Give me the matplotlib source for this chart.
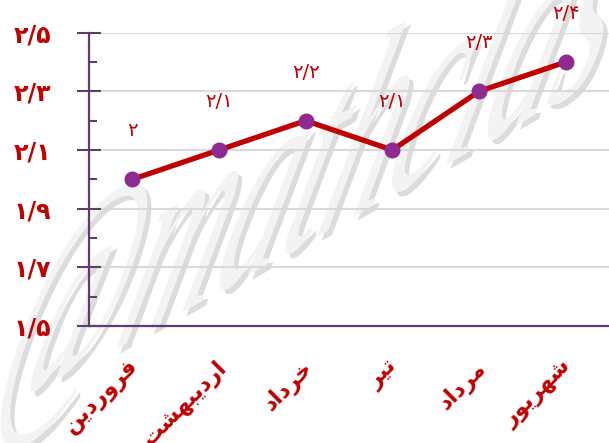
import matplotlib
matplotlib.use("Agg")
import matplotlib.pyplot as plt
from matplotlib.textpath import TextPath
from matplotlib.patches import PathPatch
from matplotlib.font_manager import FontProperties
from matplotlib.transforms import Affine2D, IdentityTransform, ScaledTranslation
import matplotlib.patheffects as pe
from matplotlib.ticker import MultipleLocator

# monthly values (first half of the Persian year)
months = ["فروردین", "اردیبهشت", "خرداد", "تیر", "مرداد", "شهریور"]
values = [2.0, 2.1, 2.2, 2.1, 2.3, 2.4]
y_ticks = [1.5, 1.7, 1.9, 2.1, 2.3, 2.5]

RED = "#C00000"
PURPLE = "#8E2A92"
AXIS = "#5E3C6E"

# presentation forms: isolated, final, initial, medial
FORMS = {
    "ا": ("\uFE8D", "\uFE8E"),
    "د": ("\uFEA9", "\uFEAA"),
    "ر": ("\uFEAD", "\uFEAE"),
    "و": ("\uFEED", "\uFEEE"),
    "ب": ("\uFE8F", "\uFE90", "\uFE91", "\uFE92"),
    "ت": ("\uFE95", "\uFE96", "\uFE97", "\uFE98"),
    "خ": ("\uFEA5", "\uFEA6", "\uFEA7", "\uFEA8"),
    "ش": ("\uFEB5", "\uFEB6", "\uFEB7", "\uFEB8"),
    "ف": ("\uFED1", "\uFED2", "\uFED3", "\uFED4"),
    "م": ("\uFEE1", "\uFEE2", "\uFEE3", "\uFEE4"),
    "ن": ("\uFEE5", "\uFEE6", "\uFEE7", "\uFEE8"),
    "ه": ("\uFEE9", "\uFEEA", "\uFEEB", "\uFEEC"),
    "ی": ("\uFBFC", "\uFBFD", "\uFBFE", "\uFBFF"),
}


def shape(word):
    """Join the letters and put them in right-to-left display order."""
    out = []
    for i, ch in enumerate(word):
        forms = FORMS.get(ch)
        if forms is None:
            out.append(ch)
            continue
        prev = word[i - 1] if i > 0 else None
        nxt = word[i + 1] if i + 1 < len(word) else None
        join_prev = prev in FORMS and len(FORMS[prev]) == 4
        join_next = len(forms) == 4 and nxt in FORMS
        if join_prev and join_next:
            out.append(forms[3])
        elif join_prev:
            out.append(forms[1])
        elif join_next:
            out.append(forms[2])
        else:
            out.append(forms[0])
    return "".join(reversed(out))


FA_DIGITS = str.maketrans("0123456789", "۰۱۲۳۴۵۶۷۸۹")


def fa_num(v):
    return f"{v:g}".replace(".", "/").translate(FA_DIGITS)


W, H = 609, 443
fig = plt.figure(figsize=(W / 100, H / 100), dpi=100)

# watermark behind the chart, stretched and slanted upward
tp = TextPath((0, 0), "@mathclas", size=1,
              prop=FontProperties(family="Liberation Serif", style="italic"))
mark = Affine2D([[134, 90, -12], [75, 290, 22], [0, 0, 1]])
wm = PathPatch(mark.transform_path(tp), facecolor="#F3F3F3", edgecolor="none",
               transform=IdentityTransform(), zorder=-1)
wm.set_path_effects([pe.SimplePatchShadow(offset=(3, -3), shadow_rgbFace="#A8A8A8", alpha=0.4),
                     pe.Normal()])
fig.patches.append(wm)

ax = fig.add_axes([89 / W, 117 / H, 520 / W, 293.3 / H])
ax.patch.set_alpha(0)

x = range(len(months))
ax.plot(x, values, color=RED, lw=3.8, zorder=3, solid_capstyle="round")
ax.plot(x, values, "o", color=PURPLE, ms=10.5, zorder=4)

for xi, v in zip(x, values):
    ax.annotate(fa_num(v), (xi, v), xytext=(0, 35), textcoords="offset points",
                ha="center", va="center", color=RED, fontsize=14)

ax.set_xlim(-0.5, len(months) - 0.5)
ax.set_ylim(1.5, 2.5)
ax.set_yticks(y_ticks)
ax.set_yticklabels([fa_num(t) for t in y_ticks], color=RED, fontsize=17, fontweight="bold")
ax.yaxis.set_minor_locator(MultipleLocator(0.1))
ax.tick_params(axis="y", which="major", direction="inout", length=17, width=1.5,
               color=AXIS, pad=19)
ax.tick_params(axis="y", which="minor", direction="in", length=6, width=1.5, color=AXIS)

ax.set_xticks(list(x))
ax.set_xticklabels([shape(m) for m in months], rotation=45, ha="right", va="top",
                   rotation_mode="anchor", color=RED, fontsize=16, fontweight="bold")
ax.tick_params(axis="x", length=0, pad=22)
shift = ScaledTranslation(-3 / 72, 0, fig.dpi_scale_trans)
for lab in ax.get_xticklabels():
    lab.set_transform(lab.get_transform() + shift)

ax.yaxis.grid(True, color="#D9D9D9", lw=1.5)
ax.set_axisbelow(True)
for side in ("top", "right"):
    ax.spines[side].set_visible(False)
for side in ("left", "bottom"):
    ax.spines[side].set_color(AXIS)
    ax.spines[side].set_linewidth(1.6)

fig.savefig("out.png", dpi=100)
